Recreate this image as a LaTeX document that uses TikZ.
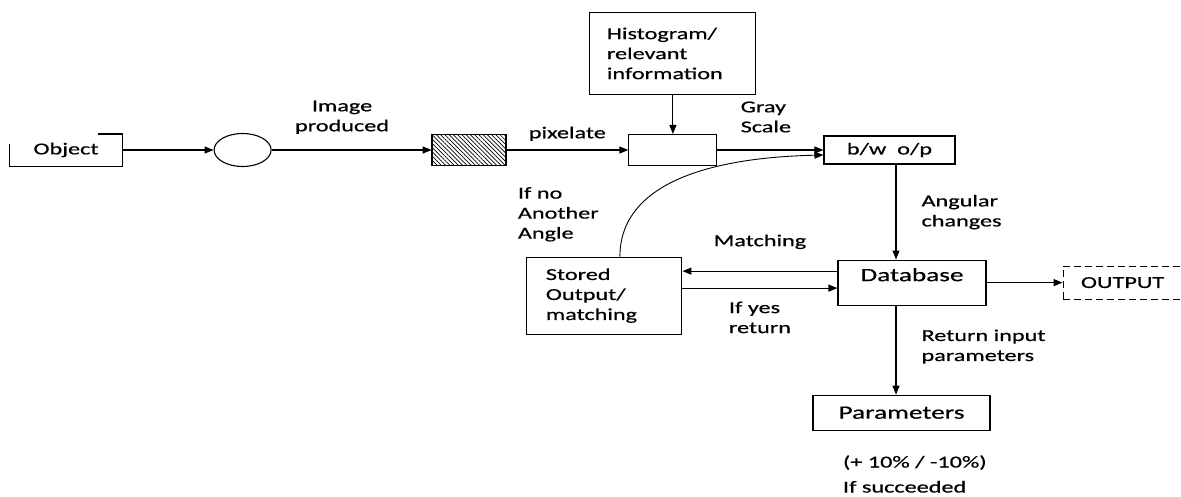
\documentclass[tikz,border=0pt]{standalone}
\usepackage{fontspec}
\setmainfont{Carlito}[FakeStretch=1.45, FakeBold=0.6]
\usetikzlibrary{positioning,shapes.geometric,arrows.meta,patterns.meta}

\begin{document}
\begin{tikzpicture}[x=1pt, y=1pt, line width=1.1pt,
      >={Triangle[length=9pt,width=7pt]},
      box/.style={draw, rectangle, inner sep=0pt, font=\fontsize{16.7}{20}\selectfont},
      bigbox/.style={box, font=\fontsize{18.8}{22}\selectfont},
      lbl/.style={inner sep=0pt, align=left, font=\fontsize{16.7}{20}\selectfont}]
      \useasboundingbox (0,0) rectangle (1181,-496);
      \node (obj) [box, draw=none, minimum width=112pt, minimum height=31pt] at (66,-150) {
         Object
      };
      \draw ([yshift=-10.5pt]obj.north west) |- (obj.south east) |- ([xshift=-25pt]obj.north east);
      \node (lens) [draw, ellipse, minimum width=57pt, minimum height=33pt, right=91pt of obj] {};
      \node (hatch) [draw, pattern={Lines[angle=-45,distance=3pt,line width=0.7pt]},
         minimum width=74pt, minimum height=31pt, right=160pt of lens] {};
      \node (gray) [box, minimum width=88pt, minimum height=31pt, right=122pt of hatch] {};
      \node (hist) [box, minimum width=166pt, minimum height=82pt, text width=132pt, align=left,
         above=39pt of gray] {
         Histogram/\\relevant\\information
      };
      \node (bw) [box, minimum width=131pt, minimum height=28pt, right=106pt of gray] {
         b/w~~o/p
      };
      \node (db) [bigbox, minimum width=148pt, minimum height=45pt, text depth=16pt,
         below=95pt of bw, xshift=22.5pt] {
         Database
      };
      \node (stored) [box, minimum width=155pt, minimum height=77pt, text width=117pt, align=left,
         left=155pt of db, yshift=-13pt] {
         Stored\\Output/\\matching
      };
      \node (out) [box, dash pattern=on 7pt off 4pt, minimum width=119pt, minimum height=33pt,
         right=76pt of db] {
         OUTPUT
      };
      \node (params) [bigbox, minimum width=177pt, minimum height=35pt, below=89pt of db,
         xshift=-10.5pt] {
         Parameters
      };
      \node (ifno) [lbl, above=14.5pt of stored.north west, anchor=south west, xshift=-9pt] {
         If no\\Another\\Angle
      };
      \node (tol) [lbl, below=24pt of params.south west, anchor=north west, xshift=30pt] {
         (+ 10\% / -10\%)\\[5pt]If succeeded
      };
      \coordinate (spine) at ([xshift=6.5pt]bw.south);
      \draw[->] (obj) to (lens);
      \draw[->] (lens) to node [lbl, pos=0.44, above=15.5pt, align=center] {Image\\produced} (hatch);
      \draw[->] (hatch) to node [lbl, above=8.5pt] {pixelate} (gray);
      \draw[->] (hist) to (gray);
      \draw[->] (gray) to node [lbl, pos=0.457, above=17pt] {Gray\\Scale} (bw);
      \draw[->] (spine) to node [lbl, right=25pt] {Angular\\changes} (spine |- db.north);
      \draw[->] ([yshift=11.5pt]db.west) to node [lbl, above=21.5pt] {Matching}
         ([yshift=11.5pt]db.west -| stored.east);
      \draw[->] ([yshift=-5.5pt]db.west -| stored.east) to node [lbl, below=13pt] {If yes\\return}
         ([yshift=-5.5pt]db.west);
      \draw[->] (db) to (out);
      \draw[->] (spine |- db.south) to node [lbl, pos=0.46, right=25pt] {Return input\\parameters}
         (spine |- params.north);
      \draw[->, line width=0.9pt] ([xshift=15.5pt]stored.north) .. controls +(0,66) and +(-130,-3) ..
         ([yshift=-5pt]bw.west);
      \end{tikzpicture}
\end{document}
